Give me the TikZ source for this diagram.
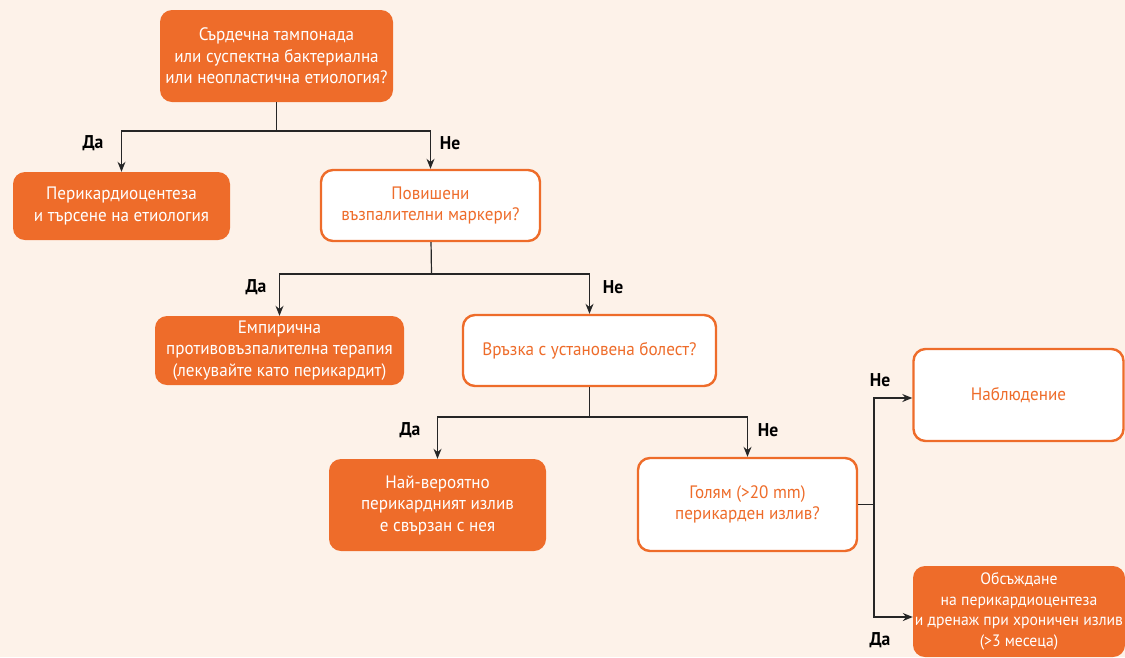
\documentclass[tikz,border=0pt]{standalone}
\usepackage{fontspec}
\setmainfont[FakeStretch=0.95]{PT Sans}
\usetikzlibrary{arrows.meta}
\definecolor{bg}{RGB}{253, 242, 233}
\definecolor{oc}{RGB}{238, 108, 42}
\tikzset{
  fillbox/.style={rectangle, rounded corners=12pt, fill=oc, text=white, align=center, inner sep=0pt, font=\fontsize{18}{21.5}\selectfont},
  openbox/.style={rectangle, rounded corners=12pt, fill=white, draw=oc, line width=2.4pt, text=oc, align=center, inner sep=0pt, font=\fontsize{18}{21.5}\selectfont},
  answer/.style={font=\fontsize{18.5}{20}\selectfont\bfseries, text=black},
  link/.style={line width=1.2pt, color=black!85},
  arr/.style={link, -{Stealth[length=10pt, width=8pt]}}
}
\begin{document}
\begin{tikzpicture}
\useasboundingbox (0pt, 0pt) rectangle (1125pt, -657pt);
\fill [bg] (0pt, 0pt) rectangle (1125pt, -657pt);
% boxes
\node (q1) [fillbox, minimum width=233pt, minimum height=92pt] at (276.5pt, -56.0pt) {Сърдечна тампонада\\или суспектна бактериална\\или неопластична етиология?};
\node (a1) [fillbox, minimum width=217pt, minimum height=68pt] at (121.5pt, -206.0pt) {Перикардиоцентеза\\и търсене на етиология};
\node (q2) [openbox, minimum width=219pt, minimum height=71pt] at (430.5pt, -205.5pt) {Повишени\\възпалителни маркери?};
\node (a2) [fillbox, minimum width=249pt, minimum height=69pt] at (279.5pt, -350.5pt) {Емпирична\\противовъзпалителна терапия\\(лекувайте като перикардит)};
\node (q3) [openbox, minimum width=253pt, minimum height=71pt] at (589.5pt, -350.5pt) {Връзка с установена болест?};
\node (a3) [fillbox, minimum width=217pt, minimum height=92pt] at (437.5pt, -505.0pt) {Най-вероятно\\перикардният излив\\е свързан с нея};
\node (q4) [openbox, minimum width=219pt, minimum height=93pt] at (747.5pt, -504.5pt) {Голям (>20 mm)\\перикарден излив?};
\node (a4) [openbox, minimum width=210pt, minimum height=92pt] at (1018.5pt, -395.0pt) {Наблюдение};
\node (a5) [fillbox, minimum width=212pt, minimum height=91pt, font=\fontsize{16.5}{20.5}\selectfont] at (1019.0pt, -611.5pt) {Обсъждане\\на перикардиоцентеза\\и дренаж при хроничен излив\\(>3 месеца)};
% junctions
\coordinate (j1) at (276.5pt, -131.0pt);
\coordinate (j2) at (431.5pt, -274.0pt);
\coordinate (j3) at (589.5pt, -417.0pt);
\coordinate (j4) at (874.0pt, -504.5pt);
% connectors
\draw [link] (q1) -- (j1);
\draw [arr] (j1) -| (a1);
\draw [arr] (j1) -| (q2);
\draw [link] (q2) -- (j2);
\draw [arr] (j2) -| (a2);
\draw [arr] (j2) -| (q3);
\draw [link] (q3) -- (j3);
\draw [arr] (j3) -| (a3);
\draw [arr] (j3) -| (q4);
\draw [link] (q4) -- (j4);
\draw [arr] (j4) |- ([yshift=-3pt]a4.west);
\draw [arr] (j4) |- ([yshift=-5.5pt]a5.west);
% answers
\node (y1) [answer] at (93pt, -143pt) {Да};
\node (n1) [answer] at (450pt, -143pt) {Не};
\node (y2) [answer] at (256pt, -287pt) {Да};
\node (n2) [answer] at (613pt, -287pt) {Не};
\node (y3) [answer] at (410pt, -430pt) {Да};
\node (n3) [answer] at (768pt, -430pt) {Не};
\node (n4) [answer] at (880pt, -380pt) {Не};
\node (y4) [answer] at (880pt, -640pt) {Да};
\end{tikzpicture}
\end{document}
